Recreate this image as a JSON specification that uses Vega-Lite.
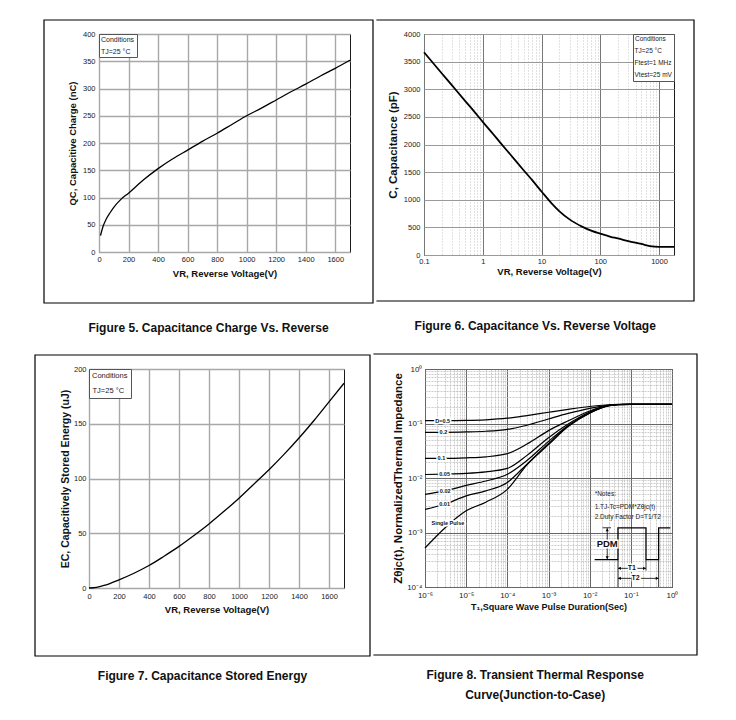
{
 "$schema": "https://vega.github.io/schema/vega-lite/v6.json",
 "padding": {"left": 32, "top": 18, "right": 2, "bottom": 2},
 "background": "white",
 "align": "none",
 "bounds": "full",
 "spacing": 17,
 "resolve": {"scale": {"color": "independent", "shape": "independent"}, "legend": {"color": "independent", "shape": "independent"}},
 "config": {
  "font": "Liberation Sans",
  "view": {"stroke": "#1a1a1a", "strokeWidth": 1},
  "axis": {"domain": false, "ticks": false, "labelFontSize": 7.5, "labelColor": "#1a1a1a", "labelFlush": false, "labelOverlap": false, "labelPadding": 3, "titleFontSize": 9.5, "titleFontWeight": "bold", "titleColor": "#111", "grid": true, "gridColor": "#a8a8a8", "gridWidth": 1.4},
  "title": {"orient": "bottom", "anchor": "middle", "fontSize": 12, "fontWeight": "bold", "color": "#111", "baseline": "top", "frame": "bounds"},
  "legend": {"orient": "top-left", "offset": 0, "padding": 2, "strokeColor": "#555", "fillColor": "white", "titleFontSize": 7, "titleFontWeight": "normal", "titleColor": "#222", "labelFontSize": 7, "labelColor": "#222", "symbolType": "circle", "symbolSize": 0, "symbolOpacity": 0, "symbolStrokeWidth": 0, "labelOffset": -7, "titlePadding": 4, "rowPadding": 4, "cornerRadius": 0}
 },
 "datasets": {
  "q": [{"v":10,"qc":30},{"v":25,"qc":45},{"v":50,"qc":61},{"v":75,"qc":72},{"v":100,"qc":82},{"v":150,"qc":97},{"v":200,"qc":108},{"v":300,"qc":132},{"v":400,"qc":153},{"v":500,"qc":171},{"v":600,"qc":187},{"v":700,"qc":203},{"v":800,"qc":218},{"v":900,"qc":234},{"v":1000,"qc":250},{"v":1100,"qc":264},{"v":1200,"qc":279},{"v":1300,"qc":294},{"v":1400,"qc":308},{"v":1500,"qc":323},{"v":1600,"qc":337},{"v":1700,"qc":352}],
  "c": [{"v":0.1,"cap":3670},{"v":0.2,"cap":3290},{"v":0.3,"cap":3070},{"v":0.5,"cap":2790},{"v":0.7,"cap":2610},{"v":1,"cap":2410},{"v":1.5,"cap":2190},{"v":2,"cap":2030},{"v":3,"cap":1810},{"v":5,"cap":1530},{"v":7,"cap":1350},{"v":10,"cap":1150},{"v":15,"cap":930},{"v":20,"cap":795},{"v":30,"cap":645},{"v":50,"cap":510},{"v":70,"cap":440},{"v":100,"cap":385},{"v":150,"cap":330},{"v":200,"cap":300},{"v":300,"cap":250},{"v":500,"cap":200},{"v":700,"cap":162},{"v":1000,"cap":148},{"v":1800,"cap":148}],
  "e": [{"v":0,"ec":0},{"v":50,"ec":0.6},{"v":100,"ec":2.3},{"v":200,"ec":7.5},{"v":300,"ec":13.5},{"v":400,"ec":20.5},{"v":500,"ec":29},{"v":600,"ec":38},{"v":700,"ec":48},{"v":800,"ec":58.5},{"v":900,"ec":70},{"v":1000,"ec":82},{"v":1100,"ec":95},{"v":1200,"ec":108},{"v":1300,"ec":122},{"v":1400,"ec":137},{"v":1500,"ec":153},{"v":1600,"ec":170},{"v":1700,"ec":187}],
  "z": [
   {"d":"sp","t":1e-6,"z":0.00052},{"d":"sp","t":3e-6,"z":0.0012},{"d":"sp","t":1e-5,"z":0.0025},{"d":"sp","t":3e-5,"z":0.0036},{"d":"sp","t":1e-4,"z":0.0062},{"d":"sp","t":3e-4,"z":0.0175},{"d":"sp","t":1e-3,"z":0.041},{"d":"sp","t":3e-3,"z":0.088},{"d":"sp","t":1e-2,"z":0.155},{"d":"sp","t":2e-2,"z":0.195},{"d":"sp","t":3e-2,"z":0.212},{"d":"sp","t":5e-2,"z":0.222},{"d":"sp","t":1e-1,"z":0.225},{"d":"sp","t":1,"z":0.225},
   {"d":"0.01","t":1e-6,"z":0.00265},{"d":"0.01","t":3e-6,"z":0.0033},{"d":"0.01","t":1e-5,"z":0.0047},{"d":"0.01","t":3e-5,"z":0.0058},{"d":"0.01","t":1e-4,"z":0.0083},{"d":"0.01","t":3e-4,"z":0.018},{"d":"0.01","t":1e-3,"z":0.043},{"d":"0.01","t":3e-3,"z":0.09},{"d":"0.01","t":1e-2,"z":0.157},{"d":"0.01","t":2e-2,"z":0.196},{"d":"0.01","t":3e-2,"z":0.213},{"d":"0.01","t":5e-2,"z":0.222},{"d":"0.01","t":1e-1,"z":0.225},{"d":"0.01","t":1,"z":0.225},
   {"d":"0.02","t":1e-6,"z":0.005},{"d":"0.02","t":3e-6,"z":0.0058},{"d":"0.02","t":1e-5,"z":0.0073},{"d":"0.02","t":3e-5,"z":0.0088},{"d":"0.02","t":1e-4,"z":0.0117},{"d":"0.02","t":3e-4,"z":0.021},{"d":"0.02","t":1e-3,"z":0.047},{"d":"0.02","t":3e-3,"z":0.092},{"d":"0.02","t":1e-2,"z":0.158},{"d":"0.02","t":2e-2,"z":0.197},{"d":"0.02","t":3e-2,"z":0.214},{"d":"0.02","t":5e-2,"z":0.222},{"d":"0.02","t":1e-1,"z":0.225},{"d":"0.02","t":1,"z":0.225},
   {"d":"0.05","t":1e-6,"z":0.0116},{"d":"0.05","t":3e-6,"z":0.0118},{"d":"0.05","t":1e-5,"z":0.0122},{"d":"0.05","t":3e-5,"z":0.013},{"d":"0.05","t":1e-4,"z":0.015},{"d":"0.05","t":3e-4,"z":0.026},{"d":"0.05","t":1e-3,"z":0.055},{"d":"0.05","t":3e-3,"z":0.098},{"d":"0.05","t":1e-2,"z":0.163},{"d":"0.05","t":2e-2,"z":0.2},{"d":"0.05","t":3e-2,"z":0.215},{"d":"0.05","t":5e-2,"z":0.223},{"d":"0.05","t":1e-1,"z":0.225},{"d":"0.05","t":1,"z":0.225},
   {"d":"0.1","t":1e-6,"z":0.023},{"d":"0.1","t":3e-6,"z":0.023},{"d":"0.1","t":1e-5,"z":0.0235},{"d":"0.1","t":3e-5,"z":0.0245},{"d":"0.1","t":1e-4,"z":0.028},{"d":"0.1","t":3e-4,"z":0.042},{"d":"0.1","t":1e-3,"z":0.074},{"d":"0.1","t":3e-3,"z":0.112},{"d":"0.1","t":1e-2,"z":0.17},{"d":"0.1","t":2e-2,"z":0.203},{"d":"0.1","t":3e-2,"z":0.216},{"d":"0.1","t":5e-2,"z":0.223},{"d":"0.1","t":1e-1,"z":0.225},{"d":"0.1","t":1,"z":0.225},
   {"d":"0.2","t":1e-6,"z":0.069},{"d":"0.2","t":3e-6,"z":0.069},{"d":"0.2","t":1e-5,"z":0.07},{"d":"0.2","t":3e-5,"z":0.072},{"d":"0.2","t":1e-4,"z":0.078},{"d":"0.2","t":3e-4,"z":0.093},{"d":"0.2","t":1e-3,"z":0.121},{"d":"0.2","t":3e-3,"z":0.153},{"d":"0.2","t":1e-2,"z":0.19},{"d":"0.2","t":2e-2,"z":0.209},{"d":"0.2","t":3e-2,"z":0.218},{"d":"0.2","t":5e-2,"z":0.223},{"d":"0.2","t":1e-1,"z":0.225},{"d":"0.2","t":1,"z":0.225},
   {"d":"0.5","t":1e-6,"z":0.113},{"d":"0.5","t":3e-6,"z":0.113},{"d":"0.5","t":1e-5,"z":0.114},{"d":"0.5","t":3e-5,"z":0.117},{"d":"0.5","t":1e-4,"z":0.125},{"d":"0.5","t":3e-4,"z":0.14},{"d":"0.5","t":1e-3,"z":0.161},{"d":"0.5","t":3e-3,"z":0.182},{"d":"0.5","t":1e-2,"z":0.205},{"d":"0.5","t":2e-2,"z":0.216},{"d":"0.5","t":3e-2,"z":0.221},{"d":"0.5","t":5e-2,"z":0.224},{"d":"0.5","t":1e-1,"z":0.225},{"d":"0.5","t":1,"z":0.225}
  ],
  "zlab": [{"t":2.7e-6,"z":0.113,"l":"D=0.5"},{"t":2.8e-6,"z":0.069,"l":"0.2"},{"t":2.5e-6,"z":0.023,"l":"0.1"},{"t":3.0e-6,"z":0.0118,"l":"0.05"},{"t":3.1e-6,"z":0.0058,"l":"0.02"},{"t":3.0e-6,"z":0.0034,"l":"0.01"},{"t":3.6e-6,"z":0.00147,"l":"Single Pulse"}],
  "tlab": [{"t":0.106,"z":0.00022,"l":"T1"},{"t":0.13,"z":0.000144,"l":"T2"}],
  "pdm": [{"t":0.0267,"z":0.00062,"l":"PDM"}],
  "notes": [{"t":0.0132,"z":0.005,"txt":"*Notes:"},{"t":0.0132,"z":0.00292,"txt":"1.TJ-Tc=PDM*Zθjc(t)"},{"t":0.0132,"z":0.00192,"txt":"2.Duty Factor D=T1/T2"}],
  "wave": [{"o":1,"t":0.0132,"z":0.000317},{"o":2,"t":0.0487,"z":0.000317},{"o":3,"t":0.0487,"z":0.00122},{"o":4,"t":0.2335,"z":0.00122},{"o":5,"t":0.2335,"z":0.000317},{"o":6,"t":0.474,"z":0.000317},{"o":7,"t":0.474,"z":0.00122},{"o":8,"t":0.912,"z":0.00122}],
  "segs": [{"t":0.0205,"t2":0.033,"z":0.00122,"z2":0.00122},{"t":0.0267,"t2":0.0267,"z":0.00122,"z2":0.000317},{"t":0.0487,"t2":0.0487,"z":0.000317,"z2":0.0001},{"t":0.474,"t2":0.474,"z":0.000317,"z2":0.0001},{"t":0.2335,"t2":0.2335,"z":0.000317,"z2":0.0002},{"t":0.0487,"t2":0.2335,"z":0.00022,"z2":0.00022},{"t":0.0487,"t2":0.474,"z":0.000144,"z2":0.000144}],
  "heads": [{"t":0.0267,"z":0.00112,"dir":"up"},{"t":0.0267,"z":0.000345,"dir":"down"},{"t":0.053,"z":0.00022,"dir":"left"},{"t":0.214,"z":0.00022,"dir":"right"},{"t":0.053,"z":0.000144,"dir":"left"},{"t":0.435,"z":0.000144,"dir":"right"}]
 },
 "vconcat": [
  {
   "align": "none",
   "bounds": "full",
   "spacing": 0,
   "resolve": {"scale": {"color": "independent"}, "legend": {"color": "independent"}},
   "hconcat": [
    {"width": 10, "height": 1, "view": {"stroke": null}, "data": {"values": [{}]}, "mark": {"type": "rect", "opacity": 0, "x": 0, "x2": 1, "y": 0, "y2": 1}},
    {
     "width": 251, "height": 218,
     "title": {"text": "Figure 5. Capacitance Charge Vs. Reverse", "offset": 19},
     "layer": [
      {"data": {"values": [{}]}, "mark": {"type": "rect", "filled": false, "stroke": "#000", "strokeWidth": 1.2, "x": -55, "x2": 274, "y": -14, "y2": 269}},
      {"data": {"name": "q"}, "mark": {"type": "line", "strokeWidth": 1.3, "interpolate": "monotone"},
       "encoding": {
        "x": {"field": "v", "type": "quantitative", "scale": {"domain": [0, 1700], "nice": false}, "axis": {"values": [0,200,400,600,800,1000,1200,1400,1600], "format": "d", "title": "VR,  Reverse Voltage(V)", "titlePadding": 6}},
        "y": {"field": "qc", "type": "quantitative", "scale": {"domain": [0, 400], "nice": false}, "axis": {"values": [0,50,100,150,200,250,300,350,400], "format": "d", "title": "QC, Capacitive Charge (nC)", "titlePadding": 5, "labelPadding": 4}},
        "color": {"datum": "TJ=25 °C", "type": "nominal", "scale": {"range": ["#000"]}, "legend": {"title": "Conditions", "padding": 2, "titlePadding": 5}}
       }}
     ]
    },
    {
     "width": 250, "height": 221,
     "title": {"text": "Figure 6. Capacitance Vs. Reverse Voltage", "offset": 19},
     "layer": [
      {"data": {"values": [{}]}, "mark": {"type": "rect", "filled": false, "stroke": "#000", "strokeWidth": 1.2, "strokeDash": [916.2, 281], "x": -47.6, "x2": 270, "y": -14, "y2": 267}},
      {"data": {"name": "c"}, "mark": {"type": "line", "strokeWidth": 1.8, "interpolate": "monotone"},
       "encoding": {
        "x": {"field": "v", "type": "quantitative", "scale": {"type": "log", "domain": [0.1, 1800], "nice": false},
              "axis": {"values": [0.1,0.2,0.3,0.4,0.5,0.6,0.7,0.8,0.9,1,2,3,4,5,6,7,8,9,10,20,30,40,50,60,70,80,90,100,200,300,400,500,600,700,800,900,1000],
                       "labelExpr": "datum.value == 0.1 ? '0.1' : indexof([1,10,100,1000], datum.value) >= 0 ? format(datum.value, 'd') : ''",
                       "gridColor": {"condition": {"test": "indexof([0.1,1,10,100,1000], datum.value) >= 0", "value": "#777"}, "value": "#bdbdbd"},
                       "gridDash": {"condition": {"test": "indexof([0.1,1,10,100,1000], datum.value) >= 0", "value": []}, "value": [1, 2]},
                       "gridWidth": {"condition": {"test": "indexof([0.1,1,10,100,1000], datum.value) >= 0", "value": 1}, "value": 0.9},
                       "title": "VR, Reverse Voltage(V)", "labelPadding": 2, "titlePadding": 2}},
        "y": {"field": "cap", "type": "quantitative", "scale": {"domain": [0, 4000], "nice": false}, "axis": {"values": [0,500,1000,1500,2000,2500,3000,3500,4000], "format": "d", "title": "C, Capacitance (pF)", "titleFontSize": 11.5, "titlePadding": 5, "labelPadding": 4, "gridColor": "#9a9a9a", "gridWidth": 1.2}},
        "color": {"datum": "TJ=25 °C", "type": "nominal", "scale": {"domain": ["TJ=25 °C", "Ftest=1 MHz", "Vtest=25 mV"], "range": ["#000", "#000", "#000"]}, "legend": {"title": "Conditions", "orient": "top-right", "titleFontSize": 6.5, "labelFontSize": 6.5, "rowPadding": 5, "titlePadding": 5, "padding": 2}}
       }}
     ]
    }
   ]
  },
  {
   "align": "none",
   "bounds": "full",
   "spacing": 0,
   "resolve": {"scale": {"color": "independent", "shape": "independent"}, "legend": {"color": "independent", "shape": "independent"}},
   "hconcat": [
    {"width": 1, "height": 1, "view": {"stroke": null}, "data": {"values": [{}]}, "mark": {"type": "rect", "opacity": 0, "x": 0, "x2": 1, "y": 0, "y2": 1}},
    {
     "width": 255, "height": 219,
     "title": {"text": "Figure 7. Capacitance Stored Energy", "offset": 14},
     "layer": [
      {"data": {"values": [{}]}, "mark": {"type": "rect", "filled": false, "stroke": "#000", "strokeWidth": 1.2, "x": -54, "x2": 281, "y": -14, "y2": 287}},
      {"data": {"name": "e"}, "mark": {"type": "line", "strokeWidth": 1.3, "interpolate": "monotone"},
       "encoding": {
        "x": {"field": "v", "type": "quantitative", "scale": {"domain": [0, 1700], "nice": false}, "axis": {"values": [0,200,400,600,800,1000,1200,1400,1600], "format": "d", "title": "VR,  Reverse Voltage(V)", "labelPadding": 4, "titlePadding": 5}},
        "y": {"field": "ec", "type": "quantitative", "scale": {"domain": [0, 200], "nice": false}, "axis": {"values": [0,50,100,150,200], "format": "d", "title": "EC, Capacitively Stored Energy (uJ)", "titleFontSize": 10.5, "titlePadding": 3, "labelPadding": 3}},
        "color": {"datum": "TJ=25 °C", "type": "nominal", "scale": {"range": ["#000"]}, "legend": {"title": "Conditions", "titleFontSize": 7.5, "labelFontSize": 7.5, "padding": 3, "titlePadding": 8}}
       }}
     ]
    },
    {
     "width": 247, "height": 218,
     "title": {"text": ["Figure 8. Transient Thermal Response", "Curve(Junction-to-Case)"], "offset": 14, "lineHeight": 20},
     "layer": [
      {"data": {"values": [{}]}, "mark": {"type": "rect", "filled": false, "stroke": "#000", "strokeWidth": 1.2, "strokeDash": [948.2, 301], "x": -51.6, "x2": 272, "y": -15, "y2": 286}},
      {"data": {"name": "z"}, "mark": {"type": "line", "color": "#000", "strokeWidth": 1.2, "interpolate": "monotone"},
       "encoding": {
        "x": {"field": "t", "type": "quantitative", "scale": {"type": "log", "domain": [0.000001, 1], "nice": false},
              "axis": {"values": [1e-6,2e-6,3e-6,4e-6,5e-6,6e-6,7e-6,8e-6,9e-6,1e-5,2e-5,3e-5,4e-5,5e-5,6e-5,7e-5,8e-5,9e-5,1e-4,2e-4,3e-4,4e-4,5e-4,6e-4,7e-4,8e-4,9e-4,1e-3,2e-3,3e-3,4e-3,5e-3,6e-3,7e-3,8e-3,9e-3,0.01,0.02,0.03,0.04,0.05,0.06,0.07,0.08,0.09,0.1,0.2,0.3,0.4,0.5,0.6,0.7,0.8,0.9,1],
                       "labelExpr": "datum.value == 1 ? '10⁰' : datum.value == 0.1 ? '10⁻¹' : datum.value == 0.01 ? '10⁻²' : datum.value == 0.001 ? '10⁻³' : datum.value == 0.0001 ? '10⁻⁴' : datum.value == 0.00001 ? '10⁻⁵' : datum.value == 0.000001 ? '10⁻⁶' : ''",
                       "gridColor": {"condition": {"test": "indexof([1,0.1,0.01,0.001,0.0001,0.00001,0.000001], datum.value) >= 0", "value": "#666"}, "value": "#b8b8b8"},
                       "gridDash": {"condition": {"test": "indexof([1,0.1,0.01,0.001,0.0001,0.00001,0.000001], datum.value) >= 0", "value": []}, "value": [2, 1]},
                       "gridWidth": {"condition": {"test": "indexof([1,0.1,0.01,0.001,0.0001,0.00001,0.000001], datum.value) >= 0", "value": 1}, "value": 0.7},
                       "title": "T₁,Square Wave Pulse Duration(Sec)", "titleFontSize": 9, "labelFontSize": 8, "labelPadding": 4, "titlePadding": 3}},
        "y": {"field": "z", "type": "quantitative", "scale": {"type": "log", "domain": [0.0001, 1], "nice": false},
              "axis": {"values": [1e-4,2e-4,3e-4,4e-4,5e-4,6e-4,7e-4,8e-4,9e-4,1e-3,2e-3,3e-3,4e-3,5e-3,6e-3,7e-3,8e-3,9e-3,0.01,0.02,0.03,0.04,0.05,0.06,0.07,0.08,0.09,0.1,0.2,0.3,0.4,0.5,0.6,0.7,0.8,0.9,1],
                       "labelExpr": "datum.value == 1 ? '10⁰' : datum.value == 0.1 ? '10⁻¹' : datum.value == 0.01 ? '10⁻²' : datum.value == 0.001 ? '10⁻³' : datum.value == 0.0001 ? '10⁻⁴' : ''",
                       "gridColor": {"condition": {"test": "indexof([1,0.1,0.01,0.001,0.0001], datum.value) >= 0", "value": "#666"}, "value": "#b8b8b8"},
                       "gridDash": {"condition": {"test": "indexof([1,0.1,0.01,0.001,0.0001], datum.value) >= 0", "value": []}, "value": [2, 1]},
                       "gridWidth": {"condition": {"test": "indexof([1,0.1,0.01,0.001,0.0001], datum.value) >= 0", "value": 1}, "value": 0.7},
                       "title": "Zθjc(t), NormalizedThermal Impedance", "titleFontSize": 11.5, "labelFontSize": 8, "titlePadding": 3, "labelPadding": 3}},
        "detail": {"field": "d", "type": "nominal"}
       }},
      {"data": {"name": "zlab"}, "mark": {"type": "text", "fontSize": 5.5, "fontWeight": "bold", "fill": "white", "stroke": "white", "strokeWidth": 3},
       "encoding": {"x": {"field": "t", "type": "quantitative", "scale": {"type": "log"}}, "y": {"field": "z", "type": "quantitative", "scale": {"type": "log"}}, "text": {"field": "l"}}},
      {"data": {"name": "zlab"}, "mark": {"type": "text", "fontSize": 5.5, "fontWeight": "bold", "color": "#111"},
       "encoding": {"x": {"field": "t", "type": "quantitative", "scale": {"type": "log"}}, "y": {"field": "z", "type": "quantitative", "scale": {"type": "log"}}, "text": {"field": "l"}}},
      {"data": {"name": "wave"}, "mark": {"type": "line", "color": "#000", "strokeWidth": 1.3},
       "encoding": {"x": {"field": "t", "type": "quantitative", "scale": {"type": "log"}}, "y": {"field": "z", "type": "quantitative", "scale": {"type": "log"}}, "order": {"field": "o", "type": "quantitative"}}},
      {"data": {"name": "segs"}, "mark": {"type": "rule", "color": "#000", "strokeWidth": 0.8},
       "encoding": {"x": {"field": "t", "type": "quantitative", "scale": {"type": "log"}}, "x2": {"field": "t2"}, "y": {"field": "z", "type": "quantitative", "scale": {"type": "log"}}, "y2": {"field": "z2"}}},
      {"data": {"name": "heads"}, "mark": {"type": "point", "filled": true, "color": "#000", "size": 10, "opacity": 1},
       "encoding": {"x": {"field": "t", "type": "quantitative", "scale": {"type": "log"}}, "y": {"field": "z", "type": "quantitative", "scale": {"type": "log"}},
                    "shape": {"field": "dir", "type": "nominal", "scale": {"domain": ["up", "down", "left", "right"], "range": ["triangle-up", "triangle-down", "triangle-left", "triangle-right"]}, "legend": null}}},
      {"data": {"name": "tlab"}, "mark": {"type": "text", "fontSize": 7, "fontWeight": "bold", "fill": "white", "stroke": "white", "strokeWidth": 3},
       "encoding": {"x": {"field": "t", "type": "quantitative", "scale": {"type": "log"}}, "y": {"field": "z", "type": "quantitative", "scale": {"type": "log"}}, "text": {"field": "l"}}},
      {"data": {"name": "tlab"}, "mark": {"type": "text", "fontSize": 7, "fontWeight": "bold", "color": "#111"},
       "encoding": {"x": {"field": "t", "type": "quantitative", "scale": {"type": "log"}}, "y": {"field": "z", "type": "quantitative", "scale": {"type": "log"}}, "text": {"field": "l"}}},
      {"data": {"name": "pdm"}, "mark": {"type": "text", "fontSize": 9.5, "fontWeight": "bold", "fill": "white", "stroke": "white", "strokeWidth": 3},
       "encoding": {"x": {"field": "t", "type": "quantitative", "scale": {"type": "log"}}, "y": {"field": "z", "type": "quantitative", "scale": {"type": "log"}}, "text": {"field": "l"}}},
      {"data": {"name": "pdm"}, "mark": {"type": "text", "fontSize": 9.5, "fontWeight": "bold", "color": "#111"},
       "encoding": {"x": {"field": "t", "type": "quantitative", "scale": {"type": "log"}}, "y": {"field": "z", "type": "quantitative", "scale": {"type": "log"}}, "text": {"field": "l"}}},
      {"data": {"name": "notes"}, "mark": {"type": "text", "fontSize": 6.5, "align": "left", "color": "#222"},
       "encoding": {"x": {"field": "t", "type": "quantitative", "scale": {"type": "log"}}, "y": {"field": "z", "type": "quantitative", "scale": {"type": "log"}}, "text": {"field": "txt"}}}
     ]
    }
   ]
  }
 ]
}
